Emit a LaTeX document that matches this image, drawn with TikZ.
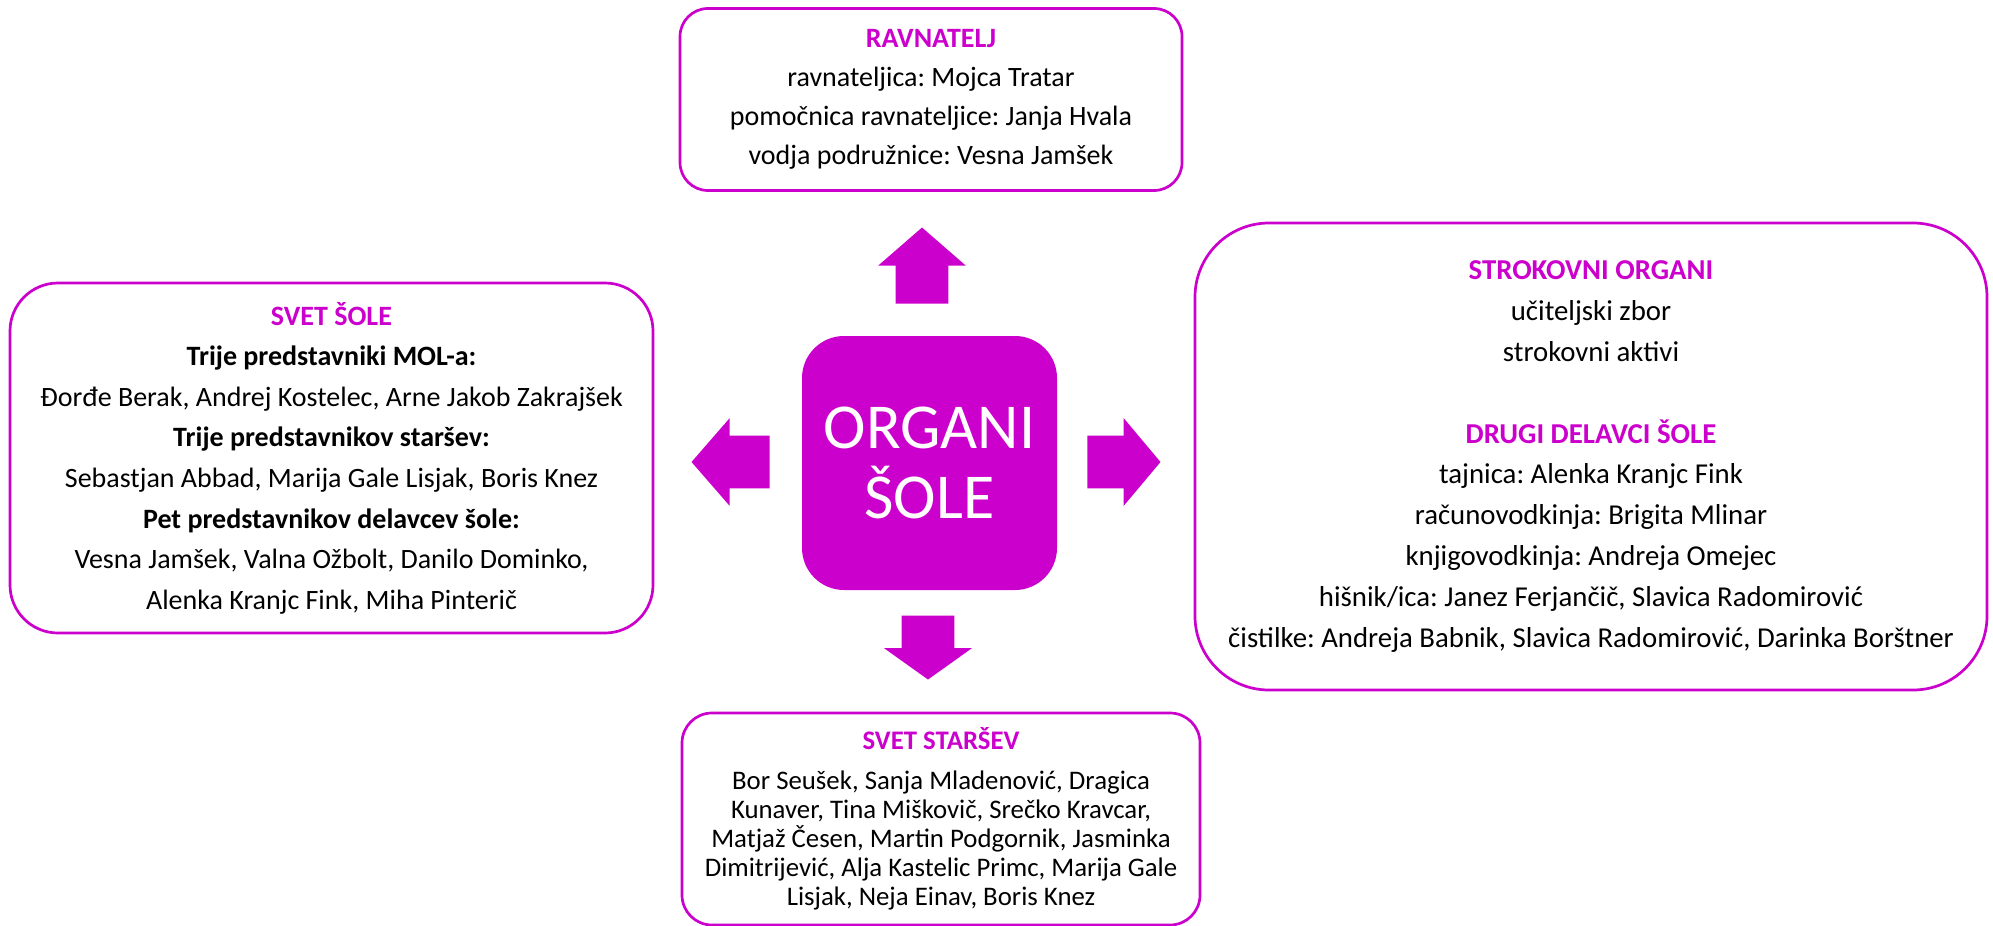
\documentclass[tikz,border=0pt]{standalone}
\usepackage{fontspec}
\setmainfont{Carlito}
\usepackage{tikz}
\usetikzlibrary{shapes.arrows, positioning}
\definecolor{organmagenta}{HTML}{CC00CC}
\newcommand{\organtitle}[1]{\textcolor{organmagenta}{\textbf{#1}}}
\frenchspacing

\begin{document}
\begin{tikzpicture}[
    x=0.5pt, y=-0.5pt,
    organbox/.style={draw=organmagenta, rounded corners=#1, line width=1.35pt,
                     fill=white, align=center, inner sep=0pt},
    blockarrow/.style={single arrow, fill=organmagenta, draw=none,
                       inner xsep=0pt, inner ysep=13pt, minimum width=0pt,
                       single arrow head extend=8.75pt,
                       single arrow tip angle=#1},
]
    \useasboundingbox (0,0) rectangle (1993,926);

    % Centre
    \node[fill=organmagenta, rounded corners=21pt, minimum width=127.5pt,
          minimum height=127pt, align=center, text=white,
          font=\fontsize{32}{35}\selectfont] (organi) at (929.5,463)
        {ORGANI\\ŠOLE};

    % Top: ravnatelj
    \node[organbox=14pt, minimum width=251pt, minimum height=91pt,
          font=\fontsize{14}{19.5}\selectfont] (ravnatelj) at (931,99.5) {
        \organtitle{RAVNATELJ}\\
        ravnateljica: Mojca Tratar\\
        pomočnica ravnateljice: Janja Hvala\\
        vodja podružnice: Vesna Jamšek
    };

    % Left: svet sole
    \node[organbox=24pt, minimum width=321.5pt, minimum height=175pt,
          font=\fontsize{14}{20.3}\selectfont] (svetsole) at (331.5,458) {
        \organtitle{SVET ŠOLE}\\
        \textbf{Trije predstavniki MOL-a:}\\
        Đorđe Berak, Andrej Kostelec, Arne Jakob Zakrajšek\\
        \textbf{Trije predstavnikov staršev:}\\
        Sebastjan Abbad, Marija Gale Lisjak, Boris Knez\\
        \textbf{Pet predstavnikov delavcev šole:}\\
        Vesna Jamšek, Valna Ožbolt, Danilo Dominko,\\
        Alenka Kranjc Fink, Miha Pinterič
    };

    % Right: strokovni organi + drugi delavci
    \node[organbox=37pt, minimum width=396pt, minimum height=233.5pt,
          font=\fontsize{14.4}{20.4}\selectfont] (strokovni) at (1591,456.5) {
        \organtitle{STROKOVNI ORGANI}\\
        učiteljski zbor\\
        strokovni aktivi\\[20.4pt]
        \organtitle{DRUGI DELAVCI ŠOLE}\\
        tajnica: Alenka Kranjc Fink\\
        računovodkinja: Brigita Mlinar\\
        knjigovodkinja: Andreja Omejec\\
        hišnik/ica: Janez Ferjančič, Slavica Radomirović\\
        čistilke: Andreja Babnik, Slavica Radomirović, Darinka Borštner
    };

    % Bottom: svet starsev
    \node[organbox=15pt, minimum width=259pt, minimum height=106pt,
          font=\fontsize{13.4}{14.5}\selectfont] (svetstarsev) at (941,819) {
        \organtitle{SVET STARŠEV}\\[5.5pt]
        Bor Seušek, Sanja Mladenović, Dragica\\
        Kunaver, Tina Miškovič, Srečko Kravcar,\\
        Matjaž Česen, Martin Podgornik, Jasminka\\
        Dimitrijević, Alja Kastelic Primc, Marija Gale\\
        Lisjak, Neja Einav, Boris Knez
    };

    % Block arrows
    \node[blockarrow=98, minimum height=38pt, rotate=90, anchor=tip]
        (arrowup) at (922,227) {};
    \node[blockarrow=98, minimum height=39pt, rotate=180, anchor=tip]
        (arrowleft) at (691,462) {};
    \node[blockarrow=100, minimum height=36.5pt, anchor=tip]
        (arrowright) at (1161,462) {};
    \node[blockarrow=109, minimum height=32pt, rotate=-90, anchor=tip]
        (arrowdown) at (928,680) {};
\end{tikzpicture}
\end{document}
